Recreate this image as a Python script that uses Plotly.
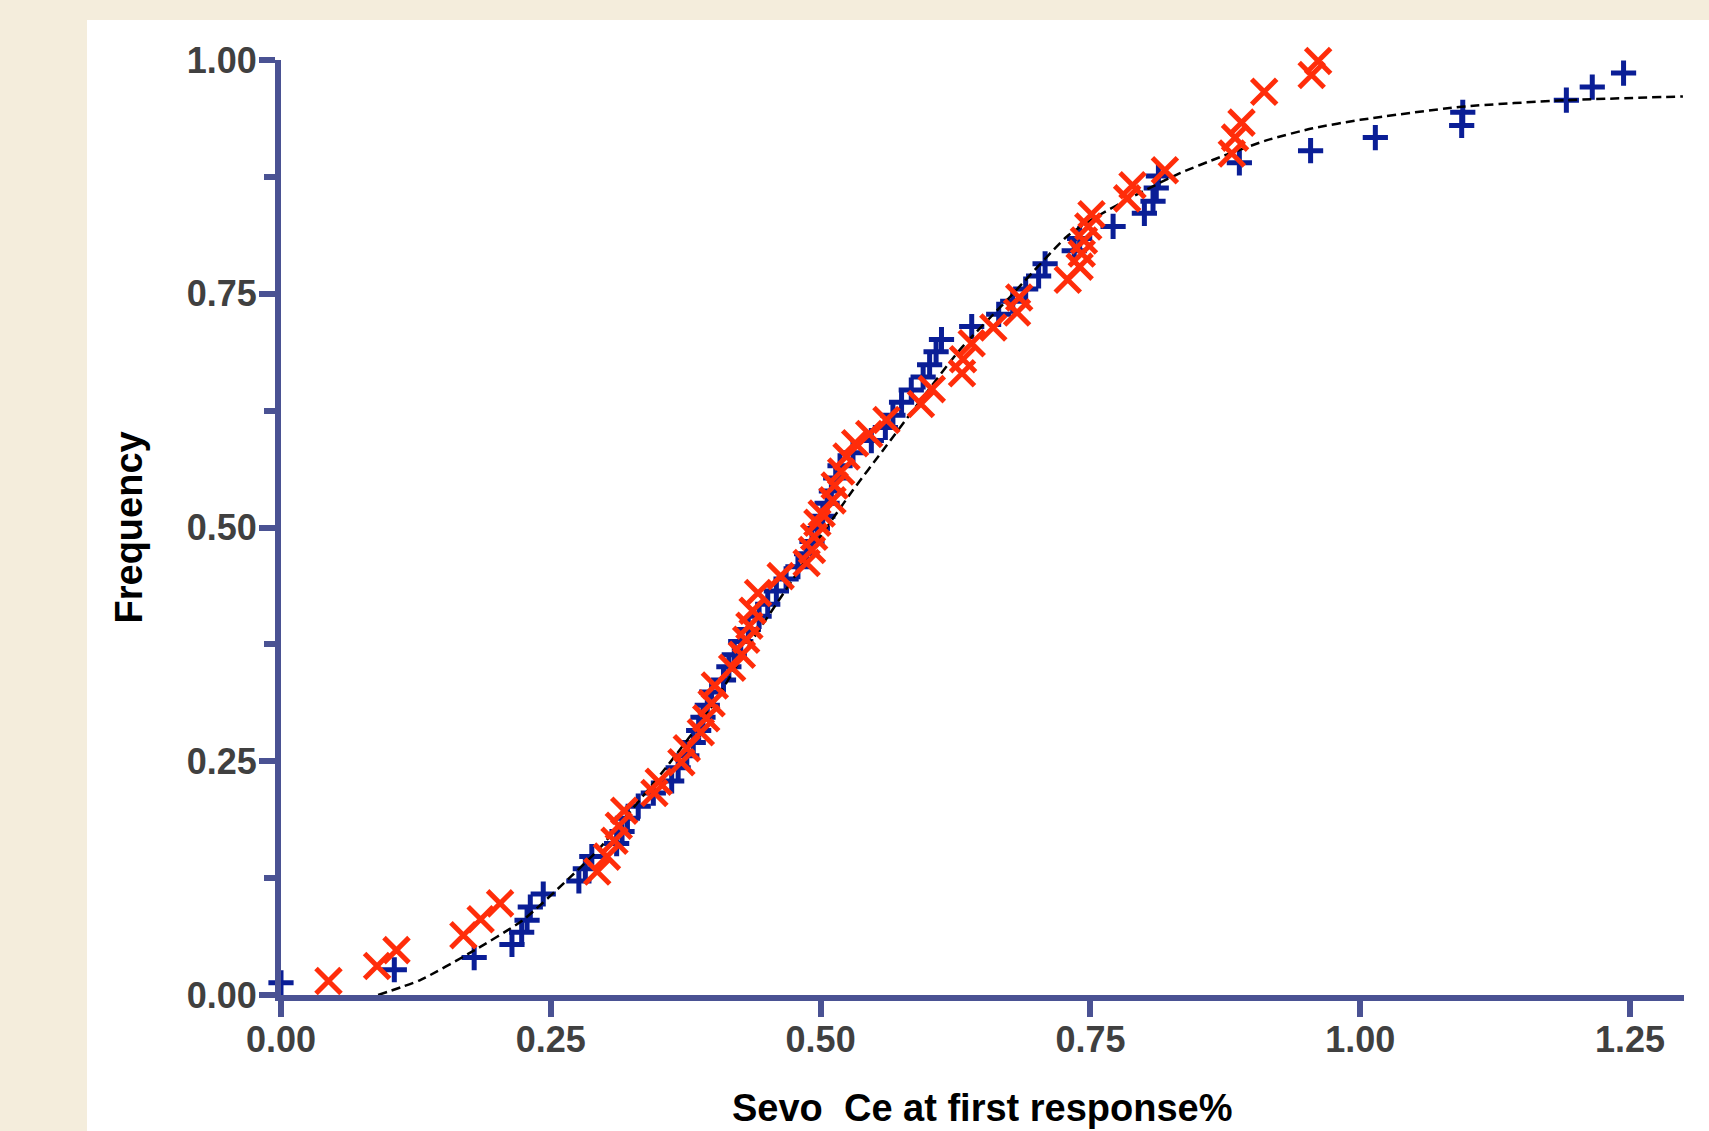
import plotly.graph_objects as go

# Cumulative frequency of Sevo Ce at first response, two groups
blue_x = [0.000, 0.105, 0.179, 0.214, 0.223, 0.228, 0.231, 0.243, 0.276, 0.282,
          0.288, 0.311, 0.316, 0.321, 0.331, 0.345, 0.362, 0.368, 0.376, 0.382,
          0.387, 0.391, 0.395, 0.399, 0.410, 0.415, 0.420, 0.426, 0.433, 0.443,
          0.451, 0.459, 0.468, 0.479, 0.487, 0.492, 0.497, 0.502, 0.506, 0.510,
          0.514, 0.518, 0.530, 0.547, 0.560, 0.567, 0.575, 0.584, 0.595, 0.601,
          0.607, 0.612, 0.640, 0.665, 0.678, 0.690, 0.702, 0.708, 0.735, 0.740,
          0.771, 0.800, 0.808, 0.811, 0.813, 0.888, 0.954, 1.014, 1.094, 1.095,
          1.191, 1.215, 1.244]
blue_y = [0.013, 0.027, 0.040, 0.054, 0.067, 0.080, 0.094, 0.108, 0.122, 0.135,
          0.148, 0.162, 0.175, 0.189, 0.202, 0.216, 0.229, 0.243, 0.256, 0.270,
          0.283, 0.297, 0.310, 0.324, 0.337, 0.351, 0.364, 0.378, 0.391, 0.405,
          0.418, 0.432, 0.445, 0.458, 0.472, 0.485, 0.499, 0.512, 0.526, 0.539,
          0.553, 0.566, 0.580, 0.593, 0.607, 0.620, 0.634, 0.647, 0.661, 0.674,
          0.688, 0.701, 0.715, 0.728, 0.742, 0.755, 0.769, 0.782, 0.796, 0.809,
          0.822, 0.836, 0.849, 0.863, 0.876, 0.890, 0.903, 0.917, 0.930, 0.944,
          0.957, 0.971, 0.986]

red_x = [0.044, 0.089, 0.107, 0.169, 0.185, 0.203, 0.293, 0.302, 0.309, 0.313,
         0.318, 0.346, 0.350, 0.371, 0.376, 0.389, 0.394, 0.399, 0.402, 0.418,
         0.427, 0.431, 0.434, 0.437, 0.442, 0.463, 0.487, 0.492, 0.494, 0.497,
         0.501, 0.511, 0.513, 0.519, 0.524, 0.532, 0.545, 0.561, 0.593, 0.603,
         0.631, 0.632, 0.640, 0.660, 0.682, 0.684, 0.729, 0.740, 0.742, 0.744,
         0.748, 0.751, 0.784, 0.789, 0.819, 0.881, 0.884, 0.890, 0.911, 0.955,
         0.961]
red_y = [0.015, 0.031, 0.048, 0.064, 0.081, 0.098, 0.132, 0.148, 0.165, 0.181,
         0.197, 0.216, 0.228, 0.249, 0.264, 0.281, 0.296, 0.312, 0.331, 0.350,
         0.364, 0.380, 0.395, 0.411, 0.430, 0.448, 0.462, 0.476, 0.490, 0.505,
         0.515, 0.529, 0.545, 0.560, 0.576, 0.590, 0.600, 0.615, 0.632, 0.648,
         0.665, 0.680, 0.697, 0.714, 0.730, 0.746, 0.765, 0.779, 0.793, 0.807,
         0.822, 0.835, 0.852, 0.866, 0.882, 0.900, 0.917, 0.933, 0.966, 0.984,
         0.999]

# Fitted cumulative curve
fit_x = [0.090, 0.129, 0.175, 0.224, 0.268, 0.296, 0.360, 0.397, 0.437, 0.478,
         0.502, 0.530, 0.558, 0.590, 0.629, 0.675, 0.728, 0.752, 0.796, 0.833,
         0.870, 0.913, 0.956, 1.000, 1.094, 1.191, 1.299]
fit_y = [0.000, 0.016, 0.045, 0.080, 0.126, 0.158, 0.248, 0.305, 0.380, 0.451,
         0.494, 0.540, 0.583, 0.632, 0.690, 0.746, 0.811, 0.830, 0.858, 0.879,
         0.896, 0.914, 0.927, 0.936, 0.950, 0.957, 0.961]

x_ticks = [0.0, 0.25, 0.5, 0.75, 1.0, 1.25]
x_ticklabels = ["0.00", "0.25", "0.50", "0.75", "1.00", "1.25"]
y_ticks = [0.0, 0.25, 0.5, 0.75, 1.0]
y_ticklabels = ["0.00", "0.25", "0.50", "0.75", "1.00"]
y_minor = [0.125, 0.375, 0.625, 0.875]

W, H = 1709, 1131
ML, MR, MT, MB = 281, 25, 60, 136
PW, PH = W - ML - MR, H - MT - MB

AXIS = "#4A5293"
BLUE = "#0A1E96"
RED = "#FF2D0A"
BEIGE = "#F4EDDC"
FONT = "Liberation Sans, Arial, sans-serif"


def px_x(p):
    return (p - ML) / PW


def px_y(p):
    return (H - MB - p) / PH


fig = go.Figure()

fig.add_trace(go.Scatter(
    x=blue_x, y=blue_y, mode="markers", cliponaxis=False, showlegend=False,
    marker=dict(symbol="cross-thin", size=18, color=BLUE,
                line=dict(color=BLUE, width=5)),
))
fig.add_trace(go.Scatter(
    x=fit_x, y=fit_y, mode="lines", cliponaxis=False, showlegend=False,
    line=dict(color="black", width=2.5, dash="9px,5px", shape="spline", smoothing=0.6),
))
fig.add_trace(go.Scatter(
    x=red_x, y=red_y, mode="markers", cliponaxis=False, showlegend=False,
    marker=dict(symbol="x-thin", size=25, color=RED,
                line=dict(color=RED, width=5)),
))

tickfont = dict(family=FONT, size=36, color="#404040", weight="bold")

fig.update_xaxes(
    range=[0, 1.30], tickmode="array", tickvals=x_ticks, ticktext=x_ticklabels,
    showline=True, linecolor=AXIS, linewidth=6, ticks="outside", ticklen=16,
    tickwidth=6, tickcolor=AXIS, showgrid=False, zeroline=False, tickfont=tickfont,
    ticklabelstandoff=-8,
)
fig.update_yaxes(
    range=[0, 1.0], tickmode="array", tickvals=y_ticks, ticktext=y_ticklabels,
    showline=True, linecolor=AXIS, linewidth=6, ticks="outside", ticklen=16,
    tickwidth=6, tickcolor=AXIS, showgrid=False, zeroline=False, tickfont=tickfont,
    ticklabelstandoff=-5,
    minor=dict(tickmode="array", tickvals=y_minor, ticks="outside", ticklen=11,
               tickwidth=6, tickcolor=AXIS, showgrid=False),
)

titlefont = dict(family=FONT, size=38, color="black", weight="bold")

fig.update_layout(
    width=W, height=H,
    margin=dict(l=ML, r=MR, t=MT, b=MB),
    paper_bgcolor=BEIGE, plot_bgcolor="white",
    shapes=[dict(type="rect", xref="paper", yref="paper", layer="below",
                 x0=px_x(87), x1=px_x(W + 10), y0=px_y(H + 10), y1=px_y(20),
                 fillcolor="white", line=dict(width=0))],
    annotations=[
        dict(text="Sevo  Ce at first response%", xref="paper", yref="paper",
             x=0.5, y=px_y(1108), xanchor="center", yanchor="middle",
             showarrow=False, font=titlefont),
        dict(text="Frequency", xref="paper", yref="paper",
             x=px_x(128), y=0.5, xanchor="center", yanchor="middle",
             textangle=-90, showarrow=False, font=titlefont),
    ],
)

fig.write_html("out.html")
